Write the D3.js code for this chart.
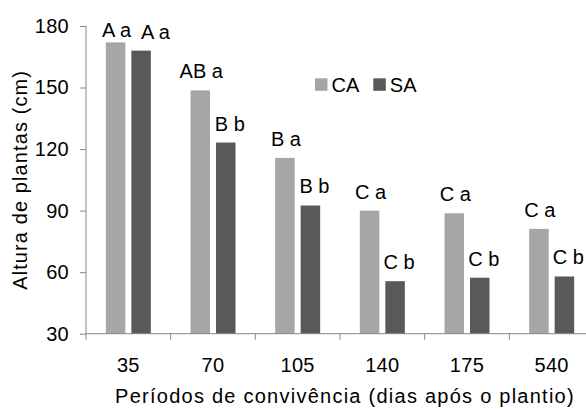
<!DOCTYPE html>
<html>
<head>
<meta charset="utf-8">
<script src="https://cdn.jsdelivr.net/npm/d3@7"></script>
<style>
  body { margin: 0; background: #fff; }
  text { font-family: Arial, "Liberation Sans", sans-serif; fill: #000; }
</style>
</head>
<body>
<div id="chart"></div>
<script>
// periods (days after planting)
const periods = ["35", "70", "105", "140", "175", "540"];
const series = ["CA", "SA"];
const caValues = [172, 148.6, 115.7, 90, 88.7, 81.1];
const saValues = [168, 123.2, 92.5, 55.6, 57.3, 57.9];
const caLetters = ["A a", "AB a", "B a", "C a", "C a", "C a"];
const saLetters = ["A a", "B b", "B b", "C b", "C b", "C b"];
const yTicks = [30, 60, 90, 120, 150, 180];

const colors = { CA: "#a6a6a6", SA: "#595959" };
const axisColor = "#868686";
const fontSize = 20;

const width = 586;
const height = 409;
const margin = { top: 26, right: -8, bottom: 75, left: 86 };

const svg = d3
  .select("#chart")
  .append("svg")
  .attr("width", width)
  .attr("height", height);

const x0 = d3
  .scaleBand()
  .domain(periods)
  .range([margin.left, width - margin.right]);

const bw = x0.bandwidth();
const x1 = d3
  .scaleBand()
  .domain(series)
  .range([bw / 2 - 22.5, bw / 2 + 22.5])
  .paddingInner(0.235);

const y = d3
  .scaleLinear()
  .domain([30, 180])
  .range([height - margin.bottom - 0.3, margin.top]);

const rows = periods.map((p, i) => ({
  period: p,
  values: [
    { key: "CA", value: caValues[i], label: caLetters[i] },
    { key: "SA", value: saValues[i], label: saLetters[i] },
  ],
}));

// bars
const groups = svg
  .selectAll(".group")
  .data(rows)
  .enter()
  .append("g")
  .attr("class", "group")
  .attr("transform", (d) => "translate(" + x0(d.period) + ",0)");

groups
  .selectAll("rect")
  .data((d) => d.values)
  .enter()
  .append("rect")
  .attr("x", (d) => x1(d.key))
  .attr("width", x1.bandwidth())
  .attr("y", (d) => y(d.value))
  .attr("height", (d) => y(30) - y(d.value))
  .attr("fill", (d) => colors[d.key]);

groups
  .selectAll(".letters")
  .data((d) => d.values)
  .enter()
  .append("text")
  .attr("class", "letters")
  .attr("text-anchor", "middle")
  .attr("font-size", fontSize)
  .attr("x", (d) => x1(d.key) + x1.bandwidth() / 2 + (d.key === "SA" ? 4 : 1))
  .attr("y", (d) => Math.max(y(d.value) - 12, y(180) + 11))
  .text((d) => d.label);

// push the SA letters right when they collide with the CA ones
groups.each(function () {
  const t = d3.select(this).selectAll(".letters").nodes();
  const a = t[0].getBBox();
  const b = t[1].getBBox();
  const overlapY = Math.abs(a.y - b.y) < a.height;
  const gap = b.x - (a.x + a.width);
  if (overlapY && gap < 9) {
    d3.select(t[1]).attr("x", +t[1].getAttribute("x") + (9 - gap));
  }
});

// y axis
const yAxis = svg
  .append("g")
  .attr("transform", "translate(" + margin.left + ",0)")
  .call(d3.axisLeft(y).tickValues(yTicks).tickSize(6).tickPadding(11));

// x axis
const xAxis = svg
  .append("g")
  .attr("transform", "translate(0," + y(30) + ")")
  .call(d3.axisBottom(x0).tickSize(0).tickPadding(24));

xAxis
  .selectAll(".edge")
  .data(periods)
  .enter()
  .append("line")
  .attr("class", "edge")
  .attr("x1", (d) => x0(d))
  .attr("x2", (d) => x0(d))
  .attr("y1", 0)
  .attr("y2", 6)
  .attr("stroke", axisColor);

[yAxis, xAxis].forEach((g) => {
  g.selectAll(".tick line").attr("stroke", axisColor);
  g.selectAll(".tick text")
    .attr("font-size", fontSize)
    .attr("letter-spacing", 0.3)
    .attr("font-family", "Arial, 'Liberation Sans', sans-serif")
    .attr("fill", "#000");
});

yAxis
  .select(".domain")
  .attr("stroke", axisColor)
  .attr("d", "M0," + y(180) + "V" + y(30));
xAxis
  .select(".domain")
  .attr("stroke", axisColor)
  .attr("d", "M" + margin.left + ",0H" + width);

// axis titles
svg
  .append("text")
  .attr("text-anchor", "middle")
  .attr("font-size", fontSize)
  .attr("letter-spacing", 1.1)
  .attr("transform", "translate(27," + (y(30) + y(180)) / 2 + ") rotate(-90)")
  .text("Altura de plantas (cm)");

svg
  .append("text")
  .attr("text-anchor", "middle")
  .attr("font-size", fontSize)
  .attr("letter-spacing", 1.25)
  .attr("x", 345)
  .attr("y", 403)
  .text("Períodos de convivência (dias após o plantio)");

// legend
const legend = svg
  .selectAll(".legend")
  .data(series)
  .enter()
  .append("g")
  .attr("class", "legend")
  .attr("transform", (d, i) => "translate(" + (315 + i * 58.3) + ",78.3)");

legend
  .append("rect")
  .attr("width", 12.5)
  .attr("height", 12.5)
  .attr("fill", (d) => colors[d]);

legend
  .append("text")
  .attr("x", 16.5)
  .attr("y", 14)
  .attr("font-size", fontSize)
  .text((d) => d);
</script>
</body>
</html>
